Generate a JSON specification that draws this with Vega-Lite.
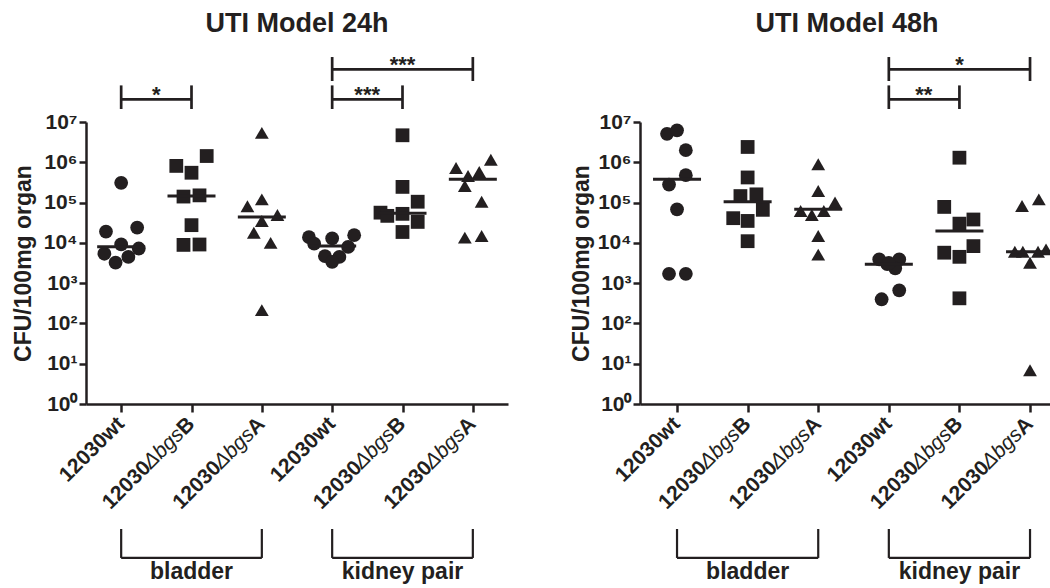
{
  "$schema": "https://vega.github.io/schema/vega-lite/v6.json",
  "padding": {"left": 12, "right": 0, "top": 10, "bottom": 0},
  "spacing": 62,
  "config": {
    "font": "Liberation Sans",
    "view": {"stroke": null},
    "axis": {"grid": false, "domainColor": "#231f20", "tickColor": "#231f20", "labelColor": "#231f20", "titleColor": "#231f20", "domainWidth": 2.5, "tickWidth": 2.5, "labelFont": "Liberation Sans", "labelFontWeight": "bold", "labelFontSize": 21, "titleFont": "Liberation Sans", "titleFontWeight": "bold", "titleFontSize": 23},
    "title": {"font": "Liberation Sans", "fontSize": 27, "fontWeight": "bold", "color": "#231f20", "offset": 16}
  },
  "datasets": {
    "points": [
      {"time":"24h","cat":"b-wt","strain":"wt","cfu":309000,"spread":0},
      {"time":"24h","cat":"b-wt","strain":"wt","cfu":19050,"spread":-1.9},
      {"time":"24h","cat":"b-wt","strain":"wt","cfu":24000,"spread":2},
      {"time":"24h","cat":"b-wt","strain":"wt","cfu":9120,"spread":0},
      {"time":"24h","cat":"b-wt","strain":"wt","cfu":7240,"spread":2.2},
      {"time":"24h","cat":"b-wt","strain":"wt","cfu":5370,"spread":-2.1},
      {"time":"24h","cat":"b-wt","strain":"wt","cfu":4470,"spread":0.9},
      {"time":"24h","cat":"b-wt","strain":"wt","cfu":3240,"spread":-0.7},
      {"time":"24h","cat":"b-B","strain":"B","cfu":1430000,"spread":1.9},
      {"time":"24h","cat":"b-B","strain":"B","cfu":813000,"spread":-1.9},
      {"time":"24h","cat":"b-B","strain":"B","cfu":550000,"spread":0},
      {"time":"24h","cat":"b-B","strain":"B","cfu":141000,"spread":-1},
      {"time":"24h","cat":"b-B","strain":"B","cfu":151000,"spread":1},
      {"time":"24h","cat":"b-B","strain":"B","cfu":27500,"spread":0},
      {"time":"24h","cat":"b-B","strain":"B","cfu":8900,"spread":-1},
      {"time":"24h","cat":"b-B","strain":"B","cfu":9100,"spread":1},
      {"time":"24h","cat":"b-A","strain":"A","cfu":5370000,"spread":0},
      {"time":"24h","cat":"b-A","strain":"A","cfu":81300,"spread":-1.8},
      {"time":"24h","cat":"b-A","strain":"A","cfu":120000,"spread":0},
      {"time":"24h","cat":"b-A","strain":"A","cfu":49000,"spread":1.95},
      {"time":"24h","cat":"b-A","strain":"A","cfu":34700,"spread":0},
      {"time":"24h","cat":"b-A","strain":"A","cfu":17800,"spread":-1},
      {"time":"24h","cat":"b-A","strain":"A","cfu":10000,"spread":1.1},
      {"time":"24h","cat":"b-A","strain":"A","cfu":214,"spread":0},
      {"time":"24h","cat":"k-wt","strain":"wt","cfu":13800,"spread":-2.9},
      {"time":"24h","cat":"k-wt","strain":"wt","cfu":9550,"spread":-2.25},
      {"time":"24h","cat":"k-wt","strain":"wt","cfu":12900,"spread":0},
      {"time":"24h","cat":"k-wt","strain":"wt","cfu":15500,"spread":2.75},
      {"time":"24h","cat":"k-wt","strain":"wt","cfu":7940,"spread":2},
      {"time":"24h","cat":"k-wt","strain":"wt","cfu":4680,"spread":-0.9},
      {"time":"24h","cat":"k-wt","strain":"wt","cfu":4470,"spread":0.9},
      {"time":"24h","cat":"k-wt","strain":"wt","cfu":3390,"spread":0},
      {"time":"24h","cat":"k-B","strain":"B","cfu":4680000,"spread":0},
      {"time":"24h","cat":"k-B","strain":"B","cfu":245000,"spread":0},
      {"time":"24h","cat":"k-B","strain":"B","cfu":105000,"spread":1.9},
      {"time":"24h","cat":"k-B","strain":"B","cfu":56200,"spread":-2.75},
      {"time":"24h","cat":"k-B","strain":"B","cfu":46800,"spread":-1.9},
      {"time":"24h","cat":"k-B","strain":"B","cfu":52500,"spread":0},
      {"time":"24h","cat":"k-B","strain":"B","cfu":33100,"spread":1.9},
      {"time":"24h","cat":"k-B","strain":"B","cfu":18600,"spread":0},
      {"time":"24h","cat":"k-A","strain":"A","cfu":724000,"spread":-2.1},
      {"time":"24h","cat":"k-A","strain":"A","cfu":1150000,"spread":2.25},
      {"time":"24h","cat":"k-A","strain":"A","cfu":575000,"spread":0.8},
      {"time":"24h","cat":"k-A","strain":"A","cfu":457000,"spread":-0.6},
      {"time":"24h","cat":"k-A","strain":"A","cfu":257000,"spread":-1},
      {"time":"24h","cat":"k-A","strain":"A","cfu":105000,"spread":1.1},
      {"time":"24h","cat":"k-A","strain":"A","cfu":13500,"spread":-1},
      {"time":"24h","cat":"k-A","strain":"A","cfu":14800,"spread":1.1},
      {"time":"48h","cat":"b-wt","strain":"wt","cfu":5100000,"spread":-1.25},
      {"time":"48h","cat":"b-wt","strain":"wt","cfu":6200000,"spread":0},
      {"time":"48h","cat":"b-wt","strain":"wt","cfu":2000000,"spread":1.1},
      {"time":"48h","cat":"b-wt","strain":"wt","cfu":480000,"spread":1.1},
      {"time":"48h","cat":"b-wt","strain":"wt","cfu":280000,"spread":-1},
      {"time":"48h","cat":"b-wt","strain":"wt","cfu":68000,"spread":0},
      {"time":"48h","cat":"b-wt","strain":"wt","cfu":1700,"spread":-1},
      {"time":"48h","cat":"b-wt","strain":"wt","cfu":1700,"spread":1.1},
      {"time":"48h","cat":"b-B","strain":"B","cfu":2400000,"spread":0},
      {"time":"48h","cat":"b-B","strain":"B","cfu":420000,"spread":0},
      {"time":"48h","cat":"b-B","strain":"B","cfu":145000,"spread":-0.9},
      {"time":"48h","cat":"b-B","strain":"B","cfu":160000,"spread":1.1},
      {"time":"48h","cat":"b-B","strain":"B","cfu":41000,"spread":-1.8},
      {"time":"48h","cat":"b-B","strain":"B","cfu":66000,"spread":1.9},
      {"time":"48h","cat":"b-B","strain":"B","cfu":35000,"spread":0},
      {"time":"48h","cat":"b-B","strain":"B","cfu":11000,"spread":0},
      {"time":"48h","cat":"b-A","strain":"A","cfu":890000,"spread":0},
      {"time":"48h","cat":"b-A","strain":"A","cfu":194000,"spread":0},
      {"time":"48h","cat":"b-A","strain":"A","cfu":100000,"spread":2.1},
      {"time":"48h","cat":"b-A","strain":"A","cfu":62000,"spread":-2.2},
      {"time":"48h","cat":"b-A","strain":"A","cfu":49000,"spread":-0.8},
      {"time":"48h","cat":"b-A","strain":"A","cfu":62000,"spread":0.7},
      {"time":"48h","cat":"b-A","strain":"A","cfu":14800,"spread":0},
      {"time":"48h","cat":"b-A","strain":"A","cfu":5100,"spread":0},
      {"time":"48h","cat":"k-wt","strain":"wt","cfu":3890,"spread":-1.2},
      {"time":"48h","cat":"k-wt","strain":"wt","cfu":3890,"spread":1.3},
      {"time":"48h","cat":"k-wt","strain":"wt","cfu":2950,"spread":-0.2},
      {"time":"48h","cat":"k-wt","strain":"wt","cfu":2340,"spread":0.8},
      {"time":"48h","cat":"k-wt","strain":"wt","cfu":3160,"spread":0},
      {"time":"48h","cat":"k-wt","strain":"wt","cfu":665,"spread":1.3},
      {"time":"48h","cat":"k-wt","strain":"wt","cfu":398,"spread":-0.9},
      {"time":"48h","cat":"k-B","strain":"B","cfu":1300000,"spread":0},
      {"time":"48h","cat":"k-B","strain":"B","cfu":78000,"spread":-1.9},
      {"time":"48h","cat":"k-B","strain":"B","cfu":38000,"spread":1.75},
      {"time":"48h","cat":"k-B","strain":"B","cfu":30000,"spread":0},
      {"time":"48h","cat":"k-B","strain":"B","cfu":8300,"spread":1.75},
      {"time":"48h","cat":"k-B","strain":"B","cfu":5700,"spread":-1.9},
      {"time":"48h","cat":"k-B","strain":"B","cfu":4500,"spread":0},
      {"time":"48h","cat":"k-B","strain":"B","cfu":420,"spread":0},
      {"time":"48h","cat":"k-A","strain":"A","cfu":82000,"spread":-1},
      {"time":"48h","cat":"k-A","strain":"A","cfu":120000,"spread":1.1},
      {"time":"48h","cat":"k-A","strain":"A","cfu":6000,"spread":-1.9},
      {"time":"48h","cat":"k-A","strain":"A","cfu":6000,"spread":-0.9},
      {"time":"48h","cat":"k-A","strain":"A","cfu":6000,"spread":1},
      {"time":"48h","cat":"k-A","strain":"A","cfu":6900,"spread":2},
      {"time":"48h","cat":"k-A","strain":"A","cfu":3200,"spread":0},
      {"time":"48h","cat":"k-A","strain":"A","cfu":6.9,"spread":0}
    ],
    "medians": [
      {"time":"24h","cat":"b-wt","med":8000},
      {"time":"24h","cat":"b-B","med":145000},
      {"time":"24h","cat":"b-A","med":44000},
      {"time":"24h","cat":"k-wt","med":8300},
      {"time":"24h","cat":"k-B","med":54000},
      {"time":"24h","cat":"k-A","med":380000},
      {"time":"48h","cat":"b-wt","med":380000},
      {"time":"48h","cat":"b-B","med":105000},
      {"time":"48h","cat":"b-A","med":68000},
      {"time":"48h","cat":"k-wt","med":2950},
      {"time":"48h","cat":"k-B","med":19600},
      {"time":"48h","cat":"k-A","med":6000}
    ],
    "sig": [
      {"time":"24h","from":"b-wt","to":"b-B","mid":"","span":1,"level":"low","sig":"*"},
      {"time":"24h","from":"k-wt","to":"k-B","mid":"","span":1,"level":"low","sig":"***"},
      {"time":"24h","from":"k-wt","to":"k-A","mid":"k-B","span":2,"level":"high","sig":"***"},
      {"time":"48h","from":"k-wt","to":"k-B","mid":"","span":1,"level":"low","sig":"**"},
      {"time":"48h","from":"k-wt","to":"k-A","mid":"k-B","span":2,"level":"high","sig":"*"}
    ],
    "groups": [
      {"from":"b-wt","to":"b-A","mid":"b-B","label":"bladder"},
      {"from":"k-wt","to":"k-A","mid":"k-B","label":"kidney pair"}
    ],
    "labels": [
      {"cat":"b-wt","kind":"wt","num":"12030wt","gene":"","suf":""},
      {"cat":"b-B","kind":"mut","num":"12030","gene":"Δbgs","suf":"B"},
      {"cat":"b-A","kind":"mut","num":"12030","gene":"Δbgs","suf":"A"},
      {"cat":"k-wt","kind":"wt","num":"12030wt","gene":"","suf":""},
      {"cat":"k-B","kind":"mut","num":"12030","gene":"Δbgs","suf":"B"},
      {"cat":"k-A","kind":"mut","num":"12030","gene":"Δbgs","suf":"A"}
    ]
  },
  "hconcat": [
    {
      "width": 422, "height": 282,
      "title": {"text": "UTI Model 24h"},
      "layer": [
        {"data": {"name": "points"}, "transform": [{"filter": "datum.time === '24h'"}],
         "mark": {"type": "point", "filled": true, "opacity": 1, "color": "#231f20", "strokeWidth": 0},
         "encoding": {
           "x": {"field": "cat", "type": "nominal", "scale": {"type": "point", "domain": ["b-wt","b-B","b-A","k-wt","k-B","k-A"], "padding": 0.5}, "axis": {"labels": false, "title": null, "tickSize": 8}},
           "xOffset": {"field": "spread", "type": "quantitative", "scale": {"domain": [-3, 3], "range": [-24, 24]}},
           "y": {"field": "cfu", "type": "quantitative", "scale": {"type": "log", "domain": [1, 10000000], "nice": false}, "axis": {"values": [1,10,100,1000,10000,100000,1000000,10000000], "labelExpr": "'10' + ['⁰','¹','²','³','⁴','⁵','⁶','⁷'][round(log(datum.value)/LN10)]", "title": "CFU/100mg organ", "tickSize": 7, "labelPadding": 2, "titlePadding": 8}},
           "shape": {"field": "strain", "type": "nominal", "scale": {"domain": ["wt","B","A"], "range": ["circle","square","triangle-up"]}, "legend": null},
           "size": {"field": "strain", "type": "ordinal", "scale": {"domain": ["wt","B","A"], "range": [190, 190, 240]}, "legend": null}
         }},
        {"data": {"name": "medians"}, "transform": [{"filter": "datum.time === '24h'"}],
         "mark": {"type": "tick", "size": 48, "thickness": 3, "color": "#231f20", "opacity": 1},
         "encoding": {"x": {"field": "cat", "type": "nominal"}, "y": {"field": "med", "type": "quantitative"}}},
        {"data": {"name": "sig"}, "transform": [{"filter": "datum.time === '24h' && datum.level === 'low'"}],
         "mark": {"type": "rule", "strokeWidth": 2.7, "color": "#231f20"},
         "encoding": {"x": {"field": "from", "type": "nominal"}, "x2": {"field": "to"}, "y": {"datum": 36600000}}},
        {"data": {"name": "sig"}, "transform": [{"filter": "datum.time === '24h' && datum.level === 'high'"}],
         "mark": {"type": "rule", "strokeWidth": 2.7, "color": "#231f20"},
         "encoding": {"x": {"field": "from", "type": "nominal"}, "x2": {"field": "to"}, "y": {"datum": 203000000}}},
        {"data": {"name": "sig"}, "transform": [{"filter": "datum.time === '24h' && datum.level === 'low'"}, {"fold": ["from", "to"], "as": ["end", "pos"]}],
         "mark": {"type": "rule", "strokeWidth": 2.7, "color": "#231f20"},
         "encoding": {"x": {"field": "pos", "type": "nominal"}, "y": {"datum": 81000000}, "y2": {"datum": 21000000}}},
        {"data": {"name": "sig"}, "transform": [{"filter": "datum.time === '24h' && datum.level === 'high'"}, {"fold": ["from", "to"], "as": ["end", "pos"]}],
         "mark": {"type": "rule", "strokeWidth": 2.7, "color": "#231f20"},
         "encoding": {"x": {"field": "pos", "type": "nominal"}, "y": {"datum": 410000000}, "y2": {"datum": 104000000}}},
        {"data": {"name": "sig"}, "transform": [{"filter": "datum.time === '24h' && datum.span === 1"}],
         "mark": {"type": "text", "fontSize": 22, "fontWeight": "bold", "color": "#231f20", "dx": 35, "dy": 3, "baseline": "alphabetic", "align": "center"},
         "encoding": {"x": {"field": "from", "type": "nominal"}, "y": {"datum": 36600000}, "text": {"field": "sig"}}},
        {"data": {"name": "sig"}, "transform": [{"filter": "datum.time === '24h' && datum.span === 2"}],
         "mark": {"type": "text", "fontSize": 22, "fontWeight": "bold", "color": "#231f20", "dy": 3, "baseline": "alphabetic", "align": "center"},
         "encoding": {"x": {"field": "mid", "type": "nominal"}, "y": {"datum": 203000000}, "text": {"field": "sig"}}},
        {"data": {"name": "groups"}, "transform": [{"fold": ["from", "to"], "as": ["end", "pos"]}],
         "mark": {"type": "rule", "strokeWidth": 2.2, "color": "#231f20"},
         "encoding": {"x": {"field": "pos", "type": "nominal"}, "y": {"datum": 0.00079}, "y2": {"datum": 0.000151}}},
        {"data": {"name": "groups"},
         "mark": {"type": "rule", "strokeWidth": 2.2, "color": "#231f20"},
         "encoding": {"x": {"field": "from", "type": "nominal"}, "x2": {"field": "to"}, "y": {"datum": 0.000151}}},
        {"data": {"name": "groups"},
         "mark": {"type": "text", "fontSize": 23, "fontWeight": "bold", "color": "#231f20", "baseline": "middle", "align": "center"},
         "encoding": {"x": {"field": "mid", "type": "nominal"}, "y": {"datum": 0.000068}, "text": {"field": "label"}}},
        {"data": {"name": "labels"}, "transform": [{"filter": "datum.kind === 'wt'"}],
         "mark": {"type": "text", "fontSize": 21, "fontWeight": "bold", "color": "#231f20", "angle": 315, "align": "right", "baseline": "middle"},
         "encoding": {"x": {"field": "cat", "type": "nominal"}, "y": {"datum": 0.38}, "text": {"field": "num"}}},
        {"data": {"name": "labels"}, "transform": [{"filter": "datum.kind === 'mut'"}],
         "mark": {"type": "text", "fontSize": 21, "fontWeight": "bold", "color": "#231f20", "angle": 315, "align": "right", "baseline": "middle"},
         "encoding": {"x": {"field": "cat", "type": "nominal"}, "y": {"datum": 0.38}, "text": {"field": "suf"}}},
        {"data": {"name": "labels"}, "transform": [{"filter": "datum.kind === 'mut'"}],
         "mark": {"type": "text", "fontSize": 21, "fontWeight": "normal", "fontStyle": "italic", "color": "#231f20", "angle": 315, "align": "right", "baseline": "middle", "dx": -15.2},
         "encoding": {"x": {"field": "cat", "type": "nominal"}, "y": {"datum": 0.38}, "text": {"field": "gene"}}},
        {"data": {"name": "labels"}, "transform": [{"filter": "datum.kind === 'mut'"}],
         "mark": {"type": "text", "fontSize": 21, "fontWeight": "bold", "color": "#231f20", "angle": 315, "align": "right", "baseline": "middle", "dx": -62},
         "encoding": {"x": {"field": "cat", "type": "nominal"}, "y": {"datum": 0.38}, "text": {"field": "num"}}}
      ]
    },
    {
      "width": 414, "height": 282,
      "title": {"text": "UTI Model 48h"},
      "layer": [
        {"data": {"name": "points"}, "transform": [{"filter": "datum.time === '48h'"}],
         "mark": {"type": "point", "filled": true, "opacity": 1, "color": "#231f20", "strokeWidth": 0},
         "encoding": {
           "x": {"field": "cat", "type": "nominal", "scale": {"type": "point", "domain": ["b-wt","b-B","b-A","k-wt","k-B","k-A"], "padding": 0.432, "align": 0.607}, "axis": {"labels": false, "title": null, "tickSize": 8}},
           "xOffset": {"field": "spread", "type": "quantitative", "scale": {"domain": [-3, 3], "range": [-24, 24]}},
           "y": {"field": "cfu", "type": "quantitative", "scale": {"type": "log", "domain": [1, 10000000], "nice": false}, "axis": {"values": [1,10,100,1000,10000,100000,1000000,10000000], "labelExpr": "'10' + ['⁰','¹','²','³','⁴','⁵','⁶','⁷'][round(log(datum.value)/LN10)]", "title": "CFU/100mg organ", "tickSize": 7, "labelPadding": 2, "titlePadding": 4}},
           "shape": {"field": "strain", "type": "nominal", "scale": {"domain": ["wt","B","A"], "range": ["circle","square","triangle-up"]}, "legend": null},
           "size": {"field": "strain", "type": "ordinal", "scale": {"domain": ["wt","B","A"], "range": [190, 190, 240]}, "legend": null}
         }},
        {"data": {"name": "medians"}, "transform": [{"filter": "datum.time === '48h'"}],
         "mark": {"type": "tick", "size": 48, "thickness": 3, "color": "#231f20", "opacity": 1},
         "encoding": {"x": {"field": "cat", "type": "nominal"}, "y": {"field": "med", "type": "quantitative"}}},
        {"data": {"name": "sig"}, "transform": [{"filter": "datum.time === '48h' && datum.level === 'low'"}],
         "mark": {"type": "rule", "strokeWidth": 2.7, "color": "#231f20"},
         "encoding": {"x": {"field": "from", "type": "nominal"}, "x2": {"field": "to"}, "y": {"datum": 36600000}}},
        {"data": {"name": "sig"}, "transform": [{"filter": "datum.time === '48h' && datum.level === 'high'"}],
         "mark": {"type": "rule", "strokeWidth": 2.7, "color": "#231f20"},
         "encoding": {"x": {"field": "from", "type": "nominal"}, "x2": {"field": "to"}, "y": {"datum": 203000000}}},
        {"data": {"name": "sig"}, "transform": [{"filter": "datum.time === '48h' && datum.level === 'low'"}, {"fold": ["from", "to"], "as": ["end", "pos"]}],
         "mark": {"type": "rule", "strokeWidth": 2.7, "color": "#231f20"},
         "encoding": {"x": {"field": "pos", "type": "nominal"}, "y": {"datum": 81000000}, "y2": {"datum": 21000000}}},
        {"data": {"name": "sig"}, "transform": [{"filter": "datum.time === '48h' && datum.level === 'high'"}, {"fold": ["from", "to"], "as": ["end", "pos"]}],
         "mark": {"type": "rule", "strokeWidth": 2.7, "color": "#231f20"},
         "encoding": {"x": {"field": "pos", "type": "nominal"}, "y": {"datum": 410000000}, "y2": {"datum": 104000000}}},
        {"data": {"name": "sig"}, "transform": [{"filter": "datum.time === '48h' && datum.span === 1"}],
         "mark": {"type": "text", "fontSize": 22, "fontWeight": "bold", "color": "#231f20", "dx": 35, "dy": 3, "baseline": "alphabetic", "align": "center"},
         "encoding": {"x": {"field": "from", "type": "nominal"}, "y": {"datum": 36600000}, "text": {"field": "sig"}}},
        {"data": {"name": "sig"}, "transform": [{"filter": "datum.time === '48h' && datum.span === 2"}],
         "mark": {"type": "text", "fontSize": 22, "fontWeight": "bold", "color": "#231f20", "dy": 3, "baseline": "alphabetic", "align": "center"},
         "encoding": {"x": {"field": "mid", "type": "nominal"}, "y": {"datum": 203000000}, "text": {"field": "sig"}}},
        {"data": {"name": "groups"}, "transform": [{"fold": ["from", "to"], "as": ["end", "pos"]}],
         "mark": {"type": "rule", "strokeWidth": 2.2, "color": "#231f20"},
         "encoding": {"x": {"field": "pos", "type": "nominal"}, "y": {"datum": 0.00079}, "y2": {"datum": 0.000151}}},
        {"data": {"name": "groups"},
         "mark": {"type": "rule", "strokeWidth": 2.2, "color": "#231f20"},
         "encoding": {"x": {"field": "from", "type": "nominal"}, "x2": {"field": "to"}, "y": {"datum": 0.000151}}},
        {"data": {"name": "groups"},
         "mark": {"type": "text", "fontSize": 23, "fontWeight": "bold", "color": "#231f20", "baseline": "middle", "align": "center"},
         "encoding": {"x": {"field": "mid", "type": "nominal"}, "y": {"datum": 0.000068}, "text": {"field": "label"}}},
        {"data": {"name": "labels"}, "transform": [{"filter": "datum.kind === 'wt'"}],
         "mark": {"type": "text", "fontSize": 21, "fontWeight": "bold", "color": "#231f20", "angle": 315, "align": "right", "baseline": "middle"},
         "encoding": {"x": {"field": "cat", "type": "nominal"}, "y": {"datum": 0.38}, "text": {"field": "num"}}},
        {"data": {"name": "labels"}, "transform": [{"filter": "datum.kind === 'mut'"}],
         "mark": {"type": "text", "fontSize": 21, "fontWeight": "bold", "color": "#231f20", "angle": 315, "align": "right", "baseline": "middle"},
         "encoding": {"x": {"field": "cat", "type": "nominal"}, "y": {"datum": 0.38}, "text": {"field": "suf"}}},
        {"data": {"name": "labels"}, "transform": [{"filter": "datum.kind === 'mut'"}],
         "mark": {"type": "text", "fontSize": 21, "fontWeight": "normal", "fontStyle": "italic", "color": "#231f20", "angle": 315, "align": "right", "baseline": "middle", "dx": -15.2},
         "encoding": {"x": {"field": "cat", "type": "nominal"}, "y": {"datum": 0.38}, "text": {"field": "gene"}}},
        {"data": {"name": "labels"}, "transform": [{"filter": "datum.kind === 'mut'"}],
         "mark": {"type": "text", "fontSize": 21, "fontWeight": "bold", "color": "#231f20", "angle": 315, "align": "right", "baseline": "middle", "dx": -62},
         "encoding": {"x": {"field": "cat", "type": "nominal"}, "y": {"datum": 0.38}, "text": {"field": "num"}}}
      ]
    }
  ]
}
